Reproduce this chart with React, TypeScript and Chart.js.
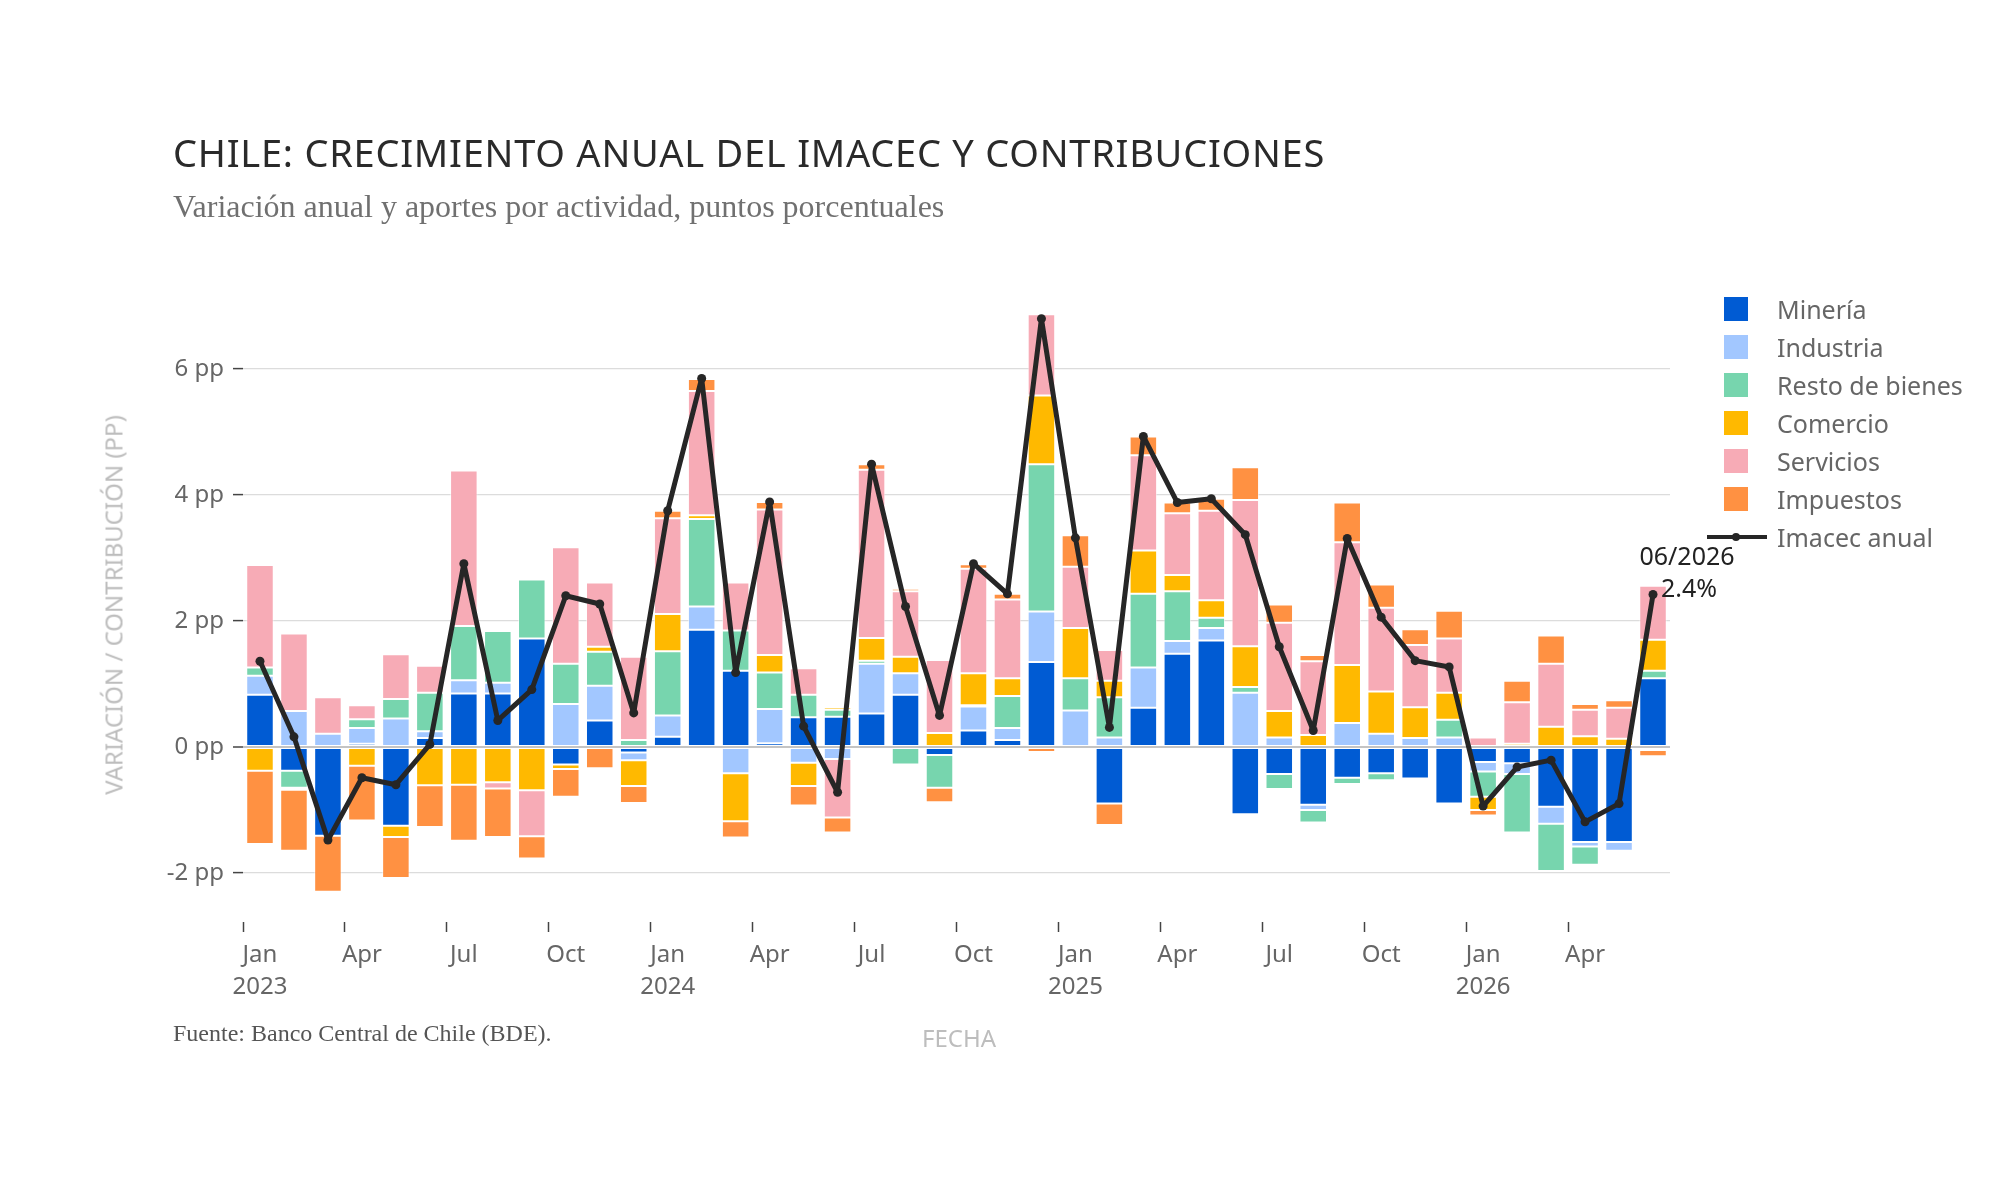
import { useEffect, useRef } from "react";
import { Chart, registerables } from "chart.js";

Chart.register(...registerables);

const months = [
  "2023-01", "2023-02", "2023-03", "2023-04", "2023-05", "2023-06",
  "2023-07", "2023-08", "2023-09", "2023-10", "2023-11", "2023-12",
  "2024-01", "2024-02", "2024-03", "2024-04", "2024-05", "2024-06",
  "2024-07", "2024-08", "2024-09", "2024-10", "2024-11", "2024-12",
  "2025-01", "2025-02", "2025-03", "2025-04", "2025-05", "2025-06",
  "2025-07", "2025-08", "2025-09", "2025-10", "2025-11", "2025-12",
  "2026-01", "2026-02", "2026-03", "2026-04", "2026-05", "2026-06",
];

// contribuciones en puntos porcentuales
const mineria = [
  0.83, -0.38, -1.41, 0.05, -1.25, 0.14, 0.85, 0.85, 1.72, -0.28, 0.42, -0.09,
  0.16, 1.86, 1.21, 0.06, 0.47, 0.48, 0.53, 0.83, -0.13, 0.26, 0.11, 1.35,
  -0.03, -0.9, 0.62, 1.48, 1.69, -1.07, -0.43, -0.92, -0.49, -0.42, -0.5, -0.9,
  -0.24, -0.26, -0.95, -1.51, -1.51, 1.09,
];
const industria = [
  0.3, 0.57, 0.21, 0.25, 0.45, 0.11, 0.21, 0.17, 0, 0.68, 0.55, -0.12,
  0.34, 0.37, -0.42, 0.54, -0.25, -0.19, 0.79, 0.34, 0, 0.38, 0.19, 0.8,
  0.58, 0.15, 0.64, 0.2, 0.2, 0.86, 0.15, -0.08, 0.38, 0.21, 0.14, 0.15,
  -0.15, -0.17, -0.27, -0.07, -0.14, -0.05,
];
const restoBienes = [
  0.13, -0.27, 0, 0.14, 0.31, 0.61, 0.86, 0.82, 0.94, 0.64, 0.54, 0.11,
  1.02, 1.39, 0.64, 0.58, 0.36, 0.11, 0.05, -0.28, -0.52, 0.02, 0.51, 2.34,
  0.51, 0.64, 1.17, 0.79, 0.16, 0.09, -0.24, -0.2, -0.1, -0.11, 0, 0.28,
  -0.4, -0.93, -0.75, -0.29, 0, 0.12,
];
const comercio = [
  -0.38, -0.03, 0, -0.3, -0.18, -0.61, -0.6, -0.56, -0.69, -0.07, 0.08, -0.41,
  0.59, 0.06, -0.76, 0.28, -0.37, 0.04, 0.36, 0.26, 0.22, 0.51, 0.28, 1.09,
  0.8, 0.26, 0.69, 0.26, 0.28, 0.65, 0.42, 0.19, 0.92, 0.67, 0.49, 0.43,
  -0.21, 0.05, 0.32, 0.17, 0.13, 0.49,
];
const servicios = [
  1.63, 1.23, 0.58, 0.22, 0.71, 0.43, 2.47, -0.1, -0.73, 1.85, 1.02, 1.32,
  1.52, 1.97, 0.76, 2.31, 0.42, -0.93, 2.67, 1.04, 1.16, 1.66, 1.25, 1.29,
  0.97, 0.49, 1.51, 0.98, 1.42, 2.32, 1.4, 1.17, 1.95, 1.33, 0.99, 0.86,
  0.15, 0.66, 1.0, 0.42, 0.49, 0.86,
];
const impuestos = [
  -1.16, -0.97, -0.89, -0.87, -0.65, -0.66, -0.89, -0.77, -0.35, -0.44, -0.34, -0.27,
  0.12, 0.19, -0.26, 0.12, -0.31, -0.24, 0.09, 0.04, -0.23, 0.07, 0.09, -0.08,
  0.5, -0.34, 0.3, 0.17, 0.19, 0.52, 0.29, 0.1, 0.63, 0.37, 0.25, 0.44,
  -0.09, 0.34, 0.45, 0.09, 0.12, -0.1,
];
const imacec = [
  1.36, 0.16, -1.48, -0.49, -0.6, 0.04, 2.91, 0.42, 0.91, 2.4, 2.27, 0.54,
  3.75, 5.85, 1.18, 3.89, 0.33, -0.72, 4.49, 2.23, 0.5, 2.91, 2.43, 6.8,
  3.32, 0.31, 4.93, 3.88, 3.94, 3.37, 1.59, 0.26, 3.31, 2.06, 1.37, 1.27,
  -0.94, -0.32, -0.21, -1.19, -0.9, 2.42,
];

const monthNames: Record<string, string> = { "01": "Jan", "04": "Apr", "07": "Jul", "10": "Oct" };
const yTicks = [-2, 0, 2, 4, 6];

const seriesInfo = [
  { label: "Minería", data: mineria, color: "#005BD3" },
  { label: "Industria", data: industria, color: "#A2C7FF" },
  { label: "Resto de bienes", data: restoBienes, color: "#77D5AE" },
  { label: "Comercio", data: comercio, color: "#FFB900" },
  { label: "Servicios", data: servicios, color: "#F7ABB6" },
  { label: "Impuestos", data: impuestos, color: "#FF9142" },
];

const SANS = "'Noto Sans', 'DejaVu Sans', sans-serif";
const SERIF = "'Liberation Serif', 'DejaVu Serif', serif";

// etiqueta del último dato
const lastPointLabel = {
  id: "lastPointLabel",
  afterDatasetsDraw(chart: Chart) {
    const meta = chart.getDatasetMeta(chart.data.datasets.length - 1);
    const pt = meta.data[meta.data.length - 1];
    if (!pt) return;
    const ctx = chart.ctx;
    ctx.save();
    ctx.fillStyle = "#222";
    ctx.font = `25px ${SANS}`;
    ctx.textAlign = "center";
    ctx.textBaseline = "middle";
    ctx.fillText("06/2026", pt.x + 34, pt.y - 37);
    ctx.fillText(`${imacec[imacec.length - 1].toFixed(1)}%`, pt.x + 36, pt.y - 5);
    ctx.restore();
  },
};

const ImacecChart = () => {
  const canvasRef = useRef<HTMLCanvasElement | null>(null);
  const chartRef = useRef<Chart | null>(null);

  useEffect(() => {
    if (!canvasRef.current) return;
    if (chartRef.current) chartRef.current.destroy();

    chartRef.current = new Chart(canvasRef.current, {
      type: "bar",
      data: {
        labels: months,
        datasets: [
          ...seriesInfo.map((s) => ({
            type: "bar" as const,
            label: s.label,
            data: s.data,
            backgroundColor: s.color,
            borderColor: "rgba(255,255,255,0.55)",
            borderWidth: 1,
            borderSkipped: false as const,
            barPercentage: 0.81,
            categoryPercentage: 1,
            stack: "aportes",
            order: 1,
          })),
          {
            type: "line" as const,
            label: "Imacec anual",
            data: imacec,
            borderColor: "#262626",
            backgroundColor: "#262626",
            borderWidth: 5,
            borderJoinStyle: "round" as const,
            borderCapStyle: "round" as const,
            pointRadius: 4.5,
            pointBorderWidth: 0,
            tension: 0,
            stack: "imacec",
            order: 0,
          },
        ],
      },
      options: {
        responsive: true,
        maintainAspectRatio: false,
        animation: false,
        layout: { autoPadding: false, padding: { left: 0, top: 284, right: 330, bottom: 0 } },
        plugins: {
          legend: { display: false },
          title: { display: false },
          tooltip: { enabled: false },
        },
        scales: {
          x: {
            stacked: true,
            offset: true,
            afterFit: (scale: any) => {
              scale.height = 278;
            },
            grid: {
              drawOnChartArea: false,
              drawTicks: true,
              tickLength: 10,
              tickWidth: 1.5,
              tickColor: (ctx: any) =>
                monthNames[months[ctx.index]?.slice(5)] ? "#444" : "rgba(0,0,0,0)",
            },
            border: { display: false },
            ticks: {
              autoSkip: false,
              maxRotation: 0,
              padding: 8,
              color: "#666",
              font: { family: SANS, size: 24, lineHeight: 1.3 },
              callback: (_v: any, i: number) => {
                const [year, m] = months[i].split("-");
                const name = monthNames[m];
                if (!name) return "";
                return m === "01" ? [name, year] : name;
              },
            },
          },
          y: {
            stacked: true,
            min: -2.78,
            max: 7.35,
            afterFit: (scale: any) => {
              scale.width = 243;
            },
            afterBuildTicks: (scale: any) => {
              scale.ticks = yTicks.map((v) => ({ value: v }));
            },
            grid: {
              color: (ctx: any) => (ctx.tick?.value === 0 ? "#c4c4c4" : "#dcdcdc"),
              lineWidth: (ctx: any) => (ctx.tick?.value === 0 ? 2 : 1.2),
              tickColor: "#444",
              tickLength: 10,
              tickWidth: 1.5,
            },
            border: { display: false },
            ticks: {
              padding: 9,
              color: "#666",
              font: { family: SANS, size: 24 },
              callback: (v: any) => `${v} pp`,
            },
          },
        },
      },
      plugins: [lastPointLabel],
    });

    return () => {
      chartRef.current?.destroy();
      chartRef.current = null;
    };
  }, []);

  return (
    <div
      style={{
        position: "absolute",
        left: 0,
        top: 0,
        width: 2000,
        height: 1200,
        background: "#fff",
        overflow: "hidden",
      }}
    >
      <div style={{ position: "absolute", left: 0, top: 0, width: 2000, height: 1200 }}>
        <canvas ref={canvasRef} />
      </div>

      <div
        style={{
          position: "absolute",
          left: 173,
          top: 132,
          fontFamily: SANS,
          fontSize: 38,
          lineHeight: "40px",
          letterSpacing: "0.75px",
          color: "#2a2a2a",
          whiteSpace: "nowrap",
        }}
      >
        CHILE: CRECIMIENTO ANUAL DEL IMACEC Y CONTRIBUCIONES
      </div>
      <div
        style={{
          position: "absolute",
          left: 173,
          top: 188,
          fontFamily: SERIF,
          fontSize: 32,
          lineHeight: "36px",
          color: "#707070",
          whiteSpace: "nowrap",
        }}
      >
        Variación anual y aportes por actividad, puntos porcentuales
      </div>

      <div
        style={{
          position: "absolute",
          left: 113,
          top: 605,
          transform: "translate(-50%, -50%) rotate(-90deg)",
          fontFamily: SANS,
          fontSize: 24,
          color: "#bdbdbd",
          whiteSpace: "nowrap",
        }}
      >
        VARIACIÓN / CONTRIBUCIÓN (PP)
      </div>

      <div
        style={{
          position: "absolute",
          left: 959,
          top: 1037,
          transform: "translate(-50%, -50%)",
          fontFamily: SANS,
          fontSize: 24,
          color: "#bdbdbd",
        }}
      >
        FECHA
      </div>

      <div
        style={{
          position: "absolute",
          left: 173,
          top: 1019,
          fontFamily: SERIF,
          fontSize: 24,
          lineHeight: "28px",
          color: "#555",
          whiteSpace: "nowrap",
        }}
      >
        Fuente: Banco Central de Chile (BDE).
      </div>

      <div style={{ position: "absolute", left: 1705, top: 290 }}>
        {seriesInfo.map((s) => (
          <div key={s.label} style={{ display: "flex", alignItems: "center", height: 38 }}>
            <div style={{ width: 62, display: "flex", justifyContent: "center" }}>
              <div style={{ width: 24, height: 24, background: s.color }} />
            </div>
            <span style={{ marginLeft: 10, fontFamily: SANS, fontSize: 25, color: "#666" }}>
              {s.label}
            </span>
          </div>
        ))}
        <div style={{ display: "flex", alignItems: "center", height: 38 }}>
          <div style={{ width: 62, position: "relative", height: 24 }}>
            <div
              style={{ position: "absolute", left: 2, right: 0, top: 10, height: 4, background: "#262626" }}
            />
            <div
              style={{
                position: "absolute",
                left: 27,
                top: 8,
                width: 8,
                height: 8,
                borderRadius: 4,
                background: "#262626",
              }}
            />
          </div>
          <span style={{ marginLeft: 10, fontFamily: SANS, fontSize: 25, color: "#666" }}>
            Imacec anual
          </span>
        </div>
      </div>
    </div>
  );
};

export default function App() {
  return <ImacecChart />;
}
